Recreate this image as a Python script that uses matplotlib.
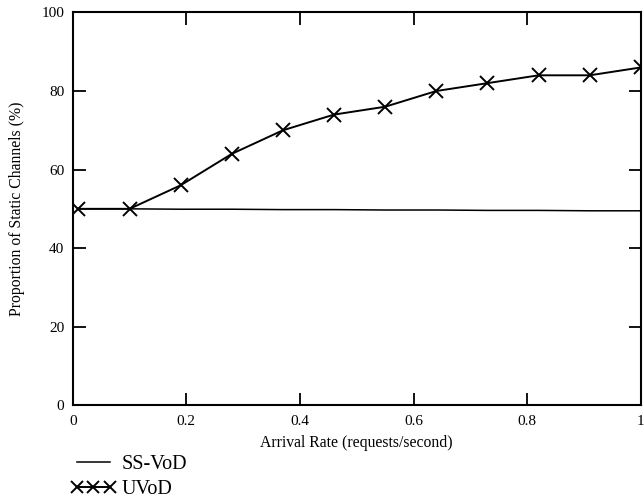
import matplotlib.pyplot as plt

plt.rcParams['font.family'] = ['Liberation Serif', 'DejaVu Serif']

# data
arrival_rate = [0.01, 0.10, 0.19, 0.28, 0.37, 0.46, 0.55, 0.64, 0.73, 0.82, 0.91, 1.00]
ss_vod = [50.0, 50.0, 49.9, 49.9, 49.8, 49.8, 49.7, 49.7, 49.6, 49.6, 49.5, 49.5]
uvod = [50, 50, 56, 64, 70, 74, 76, 80, 82, 84, 84, 86]

x_ticks = [0, 0.2, 0.4, 0.6, 0.8, 1]
x_tick_labels = ['0', '0.2', '0.4', '0.6', '0.8', '1']
y_ticks = [0, 20, 40, 60, 80, 100]

fig = plt.figure(figsize=(6.44, 4.99), dpi=100)
ax = fig.add_axes([0.113, 0.188, 0.882, 0.787])

ax.plot(arrival_rate, ss_vod, color='black', linewidth=1.1, label='SS-VoD')
ax.plot(arrival_rate, uvod, color='black', linewidth=1.4, marker='x',
        markersize=10, markeredgewidth=1.4, label='UVoD')

ax.set_xlim(0, 1)
ax.set_ylim(0, 100)
ax.set_xticks(x_ticks)
ax.set_xticklabels(x_tick_labels)
ax.set_yticks(y_ticks)

ax.tick_params(direction='in', length=9, width=1.3, top=True, right=True,
               labelsize=11, colors='black')
ax.tick_params(axis='x', pad=7)
ax.tick_params(axis='y', pad=6)
for s in ax.spines.values():
    s.set_linewidth(1.5)

ax.set_xlabel('Arrival Rate (requests/second)', fontsize=11.3, labelpad=5)
ax.set_ylabel('Proportion of Static Channels (%)', fontsize=11.3, labelpad=12)

fig.legend(loc='upper left', bbox_to_anchor=(0.095, 0.108), frameon=False,
           fontsize=14.5, handlelength=2.2, numpoints=3, labelspacing=0.3,
           handletextpad=0.3, borderpad=0, markerscale=0.8)

plt.savefig('out.png', dpi=100)
